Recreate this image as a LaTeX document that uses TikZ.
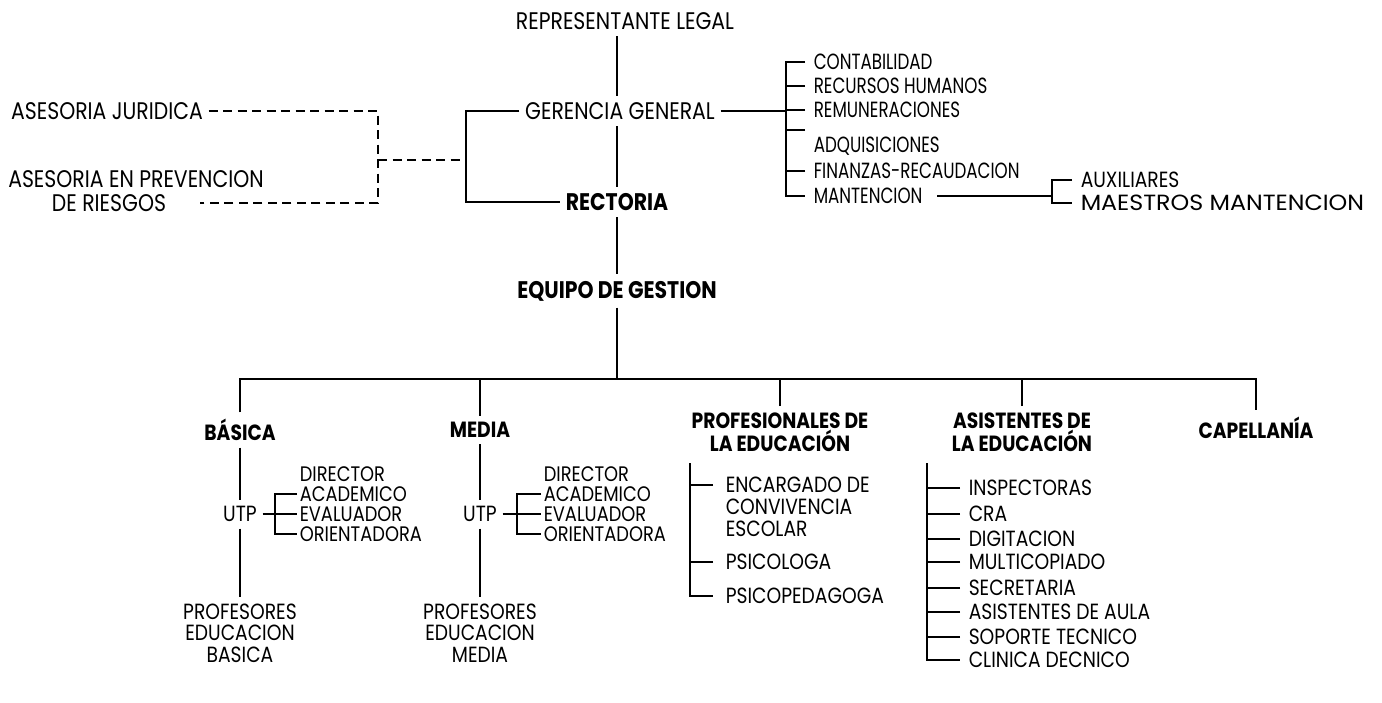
\documentclass[tikz,border=0pt]{standalone}
\usepackage{fontspec}
\setmainfont{Poppins}[FakeStretch=0.85]
\newfontfamily\narrowfont{Poppins}[FakeStretch=0.76]
\newfontfamily\widefont{Poppins}[FakeStretch=1.08]
\usetikzlibrary{positioning}

\begin{document}
\begin{tikzpicture}[x=1pt,y=-1pt,line width=1.5pt,% units as pixels, y runs downward
    every node/.style={
      inner xsep=5pt, inner ysep=6pt,
      font=\fontsize{24}{21.5}\selectfont,
      align=center
    },
    head/.style={font=\fontsize{24}{21.5}\selectfont\bfseries},
    low/.style={font=\fontsize{22}{21.5}\selectfont},
    lowhead/.style={font=\fontsize{22}{21.5}\selectfont\bfseries},
    small/.style={font=\fontsize{21}{20}\selectfont},
    lst/.style={anchor=west, align=left, inner xsep=#1},
    lst/.default=8pt,
    every edge/.style={draw,line width=1.5pt},
    dashline/.style={dash pattern=on 9pt off 5.5pt}
  ]
  \useasboundingbox (0,0) rectangle (1382,702);

  % upper part
  \node (RL) at (625,21) {REPRESENTANTE LEGAL};
  \node (GG) at (620,111) {GERENCIA GENERAL};
  \node[head] (RC) at (617,202) {RECTORIA};
  \node[head] (EG) at (617,291) {EQUIPO DE GESTION};
  \draw (RL.south -| RC) -- (GG.north -| RC);
  \draw (GG.south -| RC) -- (RC.north);
  \draw (RC.south) -- (EG.north);

  % advisors, dashed
  \node (AJ) at (107,111) {ASESORIA JURIDICA};
  \node (AP) at (136,179) {ASESORIA EN PREVENCION};
  \node (AR) at (109,203) {DE RIESGOS};
  \coordinate (JL) at (466,160);
  \coordinate (JD) at (378,160);
  \draw (GG.west) -| (JL) |- (RC.west);
  \draw[dashline,shorten >=28pt] (AJ.east) -| (JD) |- (AR.east);
  \draw[dashline] (JD) -- (JL);

  % departments of the general management
  \tikzset{rl/.style={lst,font=\fontsize{22}{21}\narrowfont}}
  \coordinate (SP) at (786,111);
  \node[rl] (CO) at (805,62) {CONTABILIDAD};
  \node[rl] (RH) at (805,86) {RECURSOS HUMANOS};
  \node[rl] (RE) at (805,110) {REMUNERACIONES};
  \node[rl] (AD) at (805,146) {ADQUISICIONES};
  \node[rl] (FI) at (805,171) {FINANZAS-RECAUDACION};
  \node[rl] (MA) at (805,196) {MANTENCION};
  \draw (GG.east) -- (SP);
  \draw (CO.west) -| (SP) |- (MA.west);
  \foreach \n in {RH,RE,FI}
    \draw (\n.west) -- (\n.west -| SP);
  \draw (AD.north west) -- (AD.north west -| SP);

  \coordinate (SM) at (1052,196);
  \node[lst,low] (AX) at (1072,180) {AUXILIARES};
  \node[lst,font=\fontsize{22}{21}\widefont] (MM) at (1072,203) {MAESTROS MANTENCION};
  \draw[shorten <=6pt] (MA.east) -- (MA.east -| SM);
  \draw (AX.west) -| (SM) |- (MM.west);

  % lower part
  \coordinate (BAR) at (615,379);
  \node[lowhead] (BA) at (240,430) {BÁSICA};
  \node[lowhead] (ME) at (480,430) {MEDIA};
  \node[lowhead] (PE) at (780,432) {PROFESIONALES DE\\LA EDUCACIÓN};
  \node[lowhead] (AS) at (1022,432) {ASISTENTES DE\\LA EDUCACIÓN};
  \node[lowhead] (CA) at (1256,428) {CAPELLANÍA};
  \draw (EG.south) -- (EG.south |- BAR);
  \draw (BA.north) |- (BAR) -| (CA.north);
  \foreach \n in {ME,PE,AS}
    \draw (\n.north) -- (\n.north |- BAR);

  % basica
  \node[low] (UB) at (240,514) {UTP};
  \node[low] (PB) at (240,633) {PROFESORES\\EDUCACION\\BASICA};
  \path (BA) edge (UB) (UB) edge (PB);
  \coordinate (UJ1) at (275,514);
  \node[lst=2pt,small] (DI1) at (297,474) {DIRECTOR};
  \node[lst=2pt,small] (AC1) at (297,494) {ACADEMICO};
  \node[lst=2pt,small] (EV1) at (297,514) {EVALUADOR};
  \node[lst=2pt,small] (OR1) at (297,534) {ORIENTADORA};
  \draw (UB.east) -- (EV1.west);
  \draw (AC1.west) -| (UJ1) |- (OR1.west);

  % media
  \node[low] (UM) at (480,514) {UTP};
  \node[low] (PM) at (480,633) {PROFESORES\\EDUCACION\\MEDIA};
  \path (ME) edge (UM) (UM) edge (PM);
  \coordinate (UJ2) at (517,514);
  \node[lst=2pt,small] (DI2) at (541,474) {DIRECTOR};
  \node[lst=2pt,small] (AC2) at (541,494) {ACADEMICO};
  \node[lst=2pt,small] (EV2) at (541,514) {EVALUADOR};
  \node[lst=2pt,small] (OR2) at (541,534) {ORIENTADORA};
  \draw (UM.east) -- (EV2.west);
  \draw (AC2.west) -| (UJ2) |- (OR2.west);

  % profesionales
  \coordinate (PJ) at (690,463);
  \node[lst=12pt,low] (EN) at (713,485) {ENCARGADO DE};
  \node[lst=12pt,low] (CV) at (713,507) {CONVIVENCIA};
  \node[lst=12pt,low] (ES) at (713,529) {ESCOLAR};
  \node[lst=12pt,low] (PS) at (713,562) {PSICOLOGA};
  \node[lst=12pt,low] (PP) at (713,596) {PSICOPEDAGOGA};
  \draw (PJ) |- (PP.west);
  \foreach \n in {EN,PS}
    \draw (\n.west) -- (\n.west -| PJ);

  % asistentes
  \coordinate (QJ) at (927,463);
  \node[lst,low] (IN) at (960,488) {INSPECTORAS};
  \node[lst,low] (CR) at (960,514) {CRA};
  \node[lst,low] (DG) at (960,539) {DIGITACION};
  \node[lst,low] (MC) at (960,562) {MULTICOPIADO};
  \node[lst,low] (SE) at (960,588) {SECRETARIA};
  \node[lst,low] (AA) at (960,612) {ASISTENTES DE AULA};
  \node[lst,low] (ST) at (960,637) {SOPORTE TECNICO};
  \node[lst,low] (CL) at (960,660) {CLINICA DECNICO};
  \draw (QJ) |- (CL.west);
  \foreach \n in {IN,CR,DG,MC,SE,AA,ST}
    \draw (\n.west) -- (\n.west -| QJ);
\end{tikzpicture}
\end{document}
